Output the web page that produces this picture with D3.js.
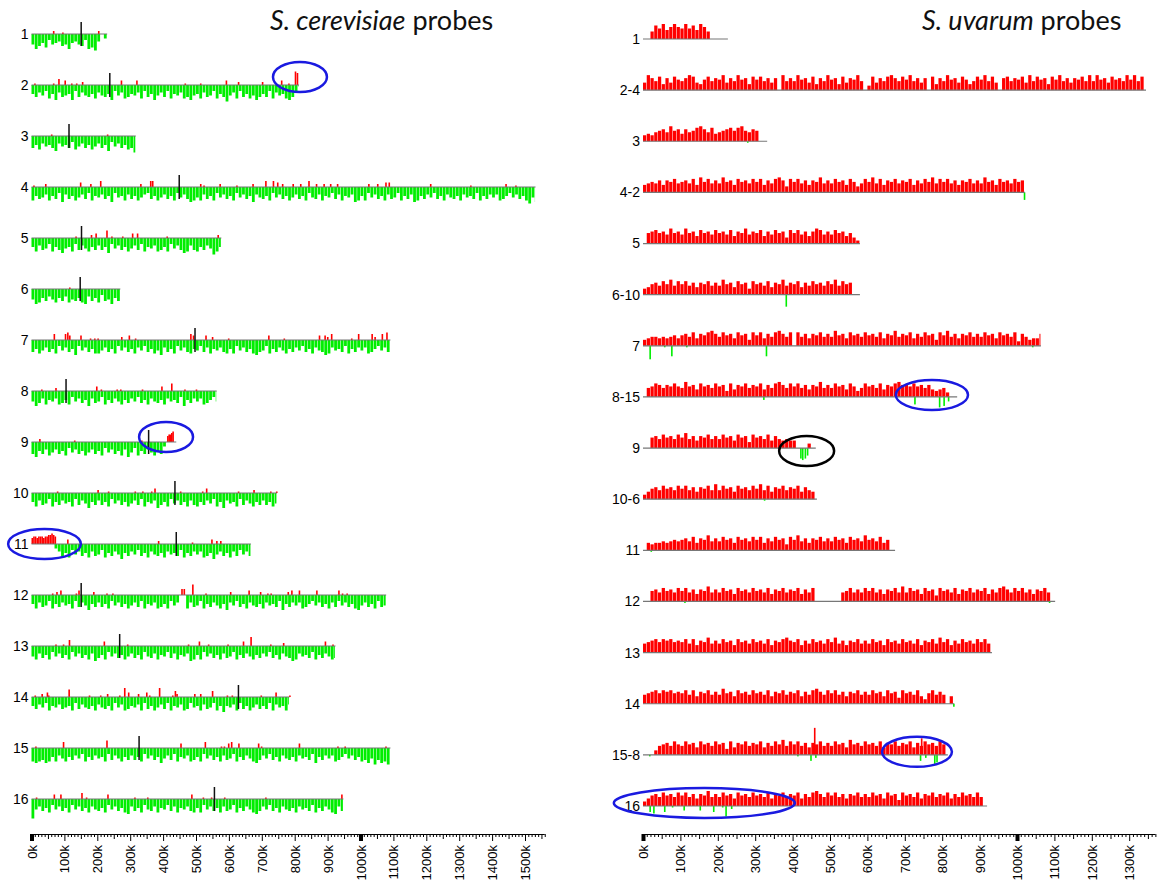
<!DOCTYPE html>
<html>
<head>
  <meta charset="utf-8">
  <script src="https://cdn.jsdelivr.net/npm/d3@7"></script>
  <style>
    body { margin: 0; background: #fff; }
    .row-label { font: 14px "Liberation Sans", Arial, sans-serif; fill: #000; }
    .title { font-family: Lato, "Open Sans", sans-serif; font-size: 27px; fill: #111; }
    .ruler text { font: 13px "Liberation Sans", Arial, sans-serif; fill: #000; }
  </style>
</head>
<body>
  <svg id="chart" width="1159" height="886"></svg>
  <script>
    // bar values are in 10 kb bins, one base-36 character per bin
    var BIN = 10;

    // S. cerevisiae probes (left): green = below, red = above
    var cerNames = ['1', '2', '3', '4', '5', '6', '7', '8', '9', '10', '11', '12', '13', '14', '15', '16'];
    var cerLengths = [230, 813, 317, 1532, 577, 270, 1091, 563, 440, 746, 667, 1078, 924, 784, 1091, 948];
    var cerCentromeres = [151, 238, 114, 449, 152, 148, 497, 105, 356, 436, 440, 151, 268, 629, 327, 556];
    var cerGreen = [
      '7a86947658' + '7a65784a9b' + '503',
      '6857496a58' + '76a4857869' + '5786a47598' + '6759486a75' + '84967598a7' + '695874968b' + '75948697a8' + '68495769a8' + '41',
      '8695768a57' + '6849758697' + '586a475869' + '8b',
      '968759684a' + '5869758496' + '7586a47695' + '8697548697' + '58694758a9' + '7958694758' + '6947586a57' + '8694758697' +
        '5869478596' + '74859675a9' + '6947586958' + '749685a968' + '5748695786' + '9576849685' + '7598647586' + '9b7a',
      '695874968a' + '7694857968' + '586a475869' + '7584967598' + '694758a958' + '96857b96',
      '7a96857968' + '597869a586' + '9487a68',
      '8697586947' + '586a475869' + '9758694758' + '695748697a' + '5869475896' + '7485967589' + '69475869a8' + '7496857968' +
        '574869578a' + '9576849685' + '7598647589',
      '7a85967598' + '6947586a58' + '7496857968' + '5748695786' + '957684a685' + '7598647',
      '8a68597586' + '9475869758' + '694758695a' + '7496857968' + '3000',
      '6958749685' + '7694857a68' + '5869475869' + '75849675a8' + '6947586958' + '96857496a5' + '7694857968' + '58697',
      '0000000358' + '6947586958' + '7496857a68' + '5748695786' + '9576849685' + '75986a7586' + '9584758',
      '6958749685' + '7694857a68' + '5869475869' + '7584967598' + '6947500958' + '749685796a' + '5748695786' + '957684a685' +
        '7598647586' + '958475869a' + '75869487',
      '7958694758' + '694758695a' + '8694758697' + '5869478596' + '74859675a9' + '6947586958' + '7496857968' + '574869578a' +
        '9576849685' + '798',
      '6857496758' + '7694857869' + '5786947598' + '6759486975' + '8496759847' + '69587496a6' + '7594869758' + '684957695',
      '9a98a96957' + '9685749685' + '7694857968' + '586947586a' + '7584967598' + '6947586958' + '74968579a8' + '5748695786' +
        '957684a685' + '7598647586' + '98a7b8a9bc',
      'd758694758' + '6947586957' + '869475869a' + '5869478596' + '7485967589' + '6947586958' + '74968579a8' + '5748695786' +
        '9576849685' + '79a58'
    ];
    var cerRed = [
      [[65, 2], [93, 1], [202, 2]],
      [[8, 1], [65, 1], [81, 4], [100, 3], [120, 1], [135, 1], [153, 2], [271, 3], [318, 3], [465, 1], [512, 1], [590, 3], [627, 2], [700, 2], [758, 3], [780, 1], [800, 9], [806, 8]],
      [[59, 1], [229, 1]],
      [[5, 1], [41, 2], [147, 3], [178, 2], [208, 4], [330, 2], [360, 4], [366, 4], [512, 2], [522, 1], [571, 2], [622, 1], [671, 2], [710, 4], [733, 4], [746, 3], [761, 2], [793, 2], [816, 2], [841, 4], [864, 2], [887, 2], [907, 2], [928, 2], [1023, 2], [1050, 2], [1075, 3], [1085, 3], [1211, 2], [1333, 1], [1440, 2], [1470, 1]],
      [[133, 1], [180, 2], [194, 3], [227, 5], [242, 1], [275, 1], [305, 3], [320, 3], [410, 1], [565, 2]],
      [[114, 1]],
      [[67, 4], [101, 4], [108, 5], [114, 3], [148, 3], [177, 1], [190, 1], [200, 1], [272, 2], [295, 3], [314, 1], [482, 4], [490, 3], [528, 3], [548, 2], [597, 1], [719, 3], [766, 1], [873, 3], [890, 3], [898, 2], [910, 4], [971, 1], [992, 4], [1033, 4], [1042, 2], [1064, 4], [1078, 5]],
      [[29, 1], [72, 2], [196, 3], [210, 1], [258, 1], [269, 1], [335, 1], [394, 3], [424, 5], [464, 1], [499, 1]],
      [[23, 2], [129, 1], [333, 1], [412, 4], [416, 5], [420, 5], [424, 6], [428, 7]],
      [[77, 1], [200, 2], [232, 1], [313, 1], [336, 1], [363, 1], [373, 3], [451, 1], [518, 1], [530, 3], [627, 1], [674, 2], [725, 1], [743, 1]],
      [[0, 4], [5, 5], [10, 5], [15, 4], [20, 5], [25, 5], [30, 5], [35, 4], [40, 5], [45, 5], [50, 6], [55, 6], [60, 7], [65, 6], [70, 5], [108, 3], [384, 2], [487, 1], [546, 3], [561, 2], [573, 2]],
      [[62, 1], [75, 2], [87, 3], [134, 1], [142, 3], [187, 2], [227, 1], [245, 1], [455, 4], [462, 4], [488, 7], [528, 1], [603, 2], [659, 3], [694, 2], [716, 1], [726, 1], [778, 2], [789, 3], [812, 3], [865, 3], [932, 3], [943, 1], [957, 1]],
      [[72, 1], [95, 1], [113, 4], [219, 3], [290, 1], [475, 1], [508, 3], [536, 1], [595, 1], [642, 3], [665, 6], [725, 1], [764, 2], [891, 3], [914, 1]],
      [[9, 1], [30, 2], [46, 3], [50, 1], [112, 5], [174, 1], [208, 1], [229, 2], [266, 1], [281, 6], [293, 3], [323, 2], [348, 3], [357, 1], [387, 6], [427, 1], [435, 4], [440, 2], [494, 2], [512, 2], [548, 4], [593, 1], [608, 1], [696, 1], [741, 3], [783, 1]],
      [[11, 1], [95, 4], [227, 5], [452, 3], [526, 4], [575, 1], [584, 1], [597, 3], [606, 4], [628, 3], [688, 3], [697, 1], [812, 3], [929, 1], [951, 1], [1075, 1]],
      [[13, 1], [67, 3], [87, 3], [151, 4], [165, 1], [230, 3], [312, 1], [351, 1], [485, 3], [520, 1], [545, 1], [585, 1], [710, 1], [941, 3]]
    ];

    // S. uvarum probes (right): red = above, green = below
    var uvaNames = ['1', '2-4', '3', '4-2', '5', '6-10', '7', '8-15', '9', '10-6', '11', '12', '13', '14', '15-8', '16'];
    var uvaLengths = [227, 1345, 332, 1021, 580, 580, 1064, 840, 462, 465, 674, 1102, 933, 832, 815, 920];
    var uvaRed = [
      '00597a68a8' + '7a796a8500' + '000',
      '5a86948597' + '68a9547968' + '7a586a7849' + '7968580a68' + '6a7859486a' + '7849587a60' + '395869a869' + '7a68580948' +
        '6a78597469' + '7a69508968' + '795a697849' + '7a6858796a' + '6a7859786a' + '7a690',
      '4546786a78' + '58679a8695' + '678979a768' + '7000',
      '5676858796' + '78695a7968' + '6a78597869' + '795869a849' + '7968587a68' + '6978597469' + '7a69587968' + '7958697a69' +
        '7968587968' + '6a78597869' + '785',
      '0789786a78' + '6a78597869' + '7869587a68' + '7958697849' + '796858a968' + '69785742',
      '4578697a69' + '7968587968' + '6a78597849' + '7869587a68' + '7958697869' + '7a697800',
      '4566565675' + '78695879a8' + '6978597849' + '795869a869' + '0968587968' + '6a78597869' + '7869587a68' + '7958697849' +
        '7a68587968' + '6978597869' + '3864558',
      '0679868797' + '6a78597869' + '7849587968' + '795869a869' + '7968587a68' + '6978597469' + '78695879a8' + '8797868545' + '6300',
      '0078697869' + '7a68587968' + '6978597849' + '7869586565' + '5000300',
      '3578697869' + '796858796a' + '6978597869' + '7a69587968' + '7958650',
      '0545565676' + '7869587a68' + '6978597869' + '7958697849' + '7a68587968' + '697859786a' + '78695700',
      '0078697869' + '7968587a68' + '6978597869' + '7869587968' + '7958690000' + '0006796869' + '796858796a' + '6978597849' +
        '7869587968' + '795869a869' + '7968587960' + '0',
      '6789798978' + '7969587a68' + '6978597869' + '78695879a8' + '7958697869' + '7a68587968' + '6978597869' + '786958796a' +
        '7958697869' + '7960',
      '6789798978' + '7969587968' + '6a78597869' + '7869587968' + '795869a869' + '7968587968' + '6978597849' + '7869537968' + '6050',
      '0003678697' + '6978597869' + '7849587968' + '7958697a69' + '7968587968' + '69785a7869' + '7869587968' + '7958697869' + '70',
      '3578697869' + '7968587a68' + '6978597869' + '7869587968' + '795869a869' + '7968587968' + '6978597849' + '7869587968' +
        '7958697869' + '60'
    ];
    var uvaGreen = [
      [],
      [],
      [[278, 1]],
      [[1018, 5]],
      [],
      [[381, 8]],
      [[17, 9], [56, 1], [75, 7], [115, 1], [328, 7], [1040, 1]],
      [[321, 2], [725, 5], [791, 7], [803, 6], [815, 3]],
      [[420, 7], [425, 8], [432, 7], [438, 5]],
      [[323, 1]],
      [[20, 1]],
      [[110, 1], [1085, 1]],
      [],
      [[829, 2]],
      [[16, 1], [412, 1], [447, 4], [460, 2], [740, 4], [754, 2], [778, 6], [784, 5]],
      [[17, 4], [27, 5], [56, 4], [77, 1], [108, 3], [151, 3], [187, 4], [211, 1], [220, 7], [235, 2]]
    ];
    var uvaRedSpikes = [[], [], [], [], [], [], [], [], [], [], [], [], [], [], [[457, 18], [743, 11]], []];

    // circled regions: panel, row, start kb, end kb
    var circles = [
      {panel: 'cer', row: '2', from: 734, to: 898, dy: -8, color: '#1a1ae0'},
      {panel: 'cer', row: '9', from: 327, to: 491, dy: -5, color: '#1a1ae0'},
      {panel: 'cer', row: '11', from: -71, to: 150, dy: 0, color: '#1a1ae0'},
      {panel: 'uva', row: '8-15', from: 676, to: 869, dy: -2, color: '#1a1ae0'},
      {panel: 'uva', row: '9', from: 364, to: 511, dy: 3, color: '#000'},
      {panel: 'uva', row: '15-8', from: 639, to: 826, dy: -3, color: '#1a1ae0'},
      {panel: 'uva', row: '16', from: -78, to: 406, dy: -3, color: '#1a1ae0'}
    ];

    var svg = d3.select('#chart');
    var h = d3.scaleLinear().domain([0, 10]).range([0, 15]);

    var xCer = d3.scaleLinear().domain([0, 1000]).range([31.5, 360.5]);
    var yCer = d3.scalePoint().domain(cerNames).range([34, 799]);
    var xUva = d3.scaleLinear().domain([0, 1000]).range([643, 1017]);
    var yUva = d3.scalePoint().domain(uvaNames).range([39, 806]);

    function decode(s) {
      return s.split('').map(function (c, j) { return {k: j * BIN, v: parseInt(c, 36)}; });
    }

    function drawPanel(x, y, names, lengths, mainStr, mainUp, mainColor, spikes, spikeColor, extra, cen) {
      var g = svg.append('g');
      var bw = x(BIN) - x(0);
      names.forEach(function (name, i) {
        var len = lengths[i];
        var row = g.append('g').attr('transform', 'translate(0,' + y(name) + ')');
        var bins = decode(mainStr[i]).filter(function (d) { return d.v > 0 && d.k < len; });

        row.selectAll('rect.main')
          .data(bins)
          .enter()
          .append('rect')
          .attr('x', function (d) { return x(d.k); })
          .attr('width', function (d) { return Math.min(bw, x(len) - x(d.k)) - 0.5; })
          .attr('y', function (d) { return mainUp ? -h(d.v) : 0; })
          .attr('height', function (d) { return h(d.v); })
          .attr('fill', mainColor);

        row.selectAll('rect.spike')
          .data(spikes[i])
          .enter()
          .append('rect')
          .attr('x', function (d) { return x(d[0]); })
          .attr('width', 1.6)
          .attr('y', function (d) { return mainUp ? 0 : -h(d[1]); })
          .attr('height', function (d) { return h(d[1]); })
          .attr('fill', spikeColor);

        if (extra) {
          row.selectAll('rect.extra')
            .data(extra[i])
            .enter()
            .append('rect')
            .attr('x', function (d) { return x(d[0]); })
            .attr('width', 1.6)
            .attr('y', function (d) { return -h(d[1]); })
            .attr('height', function (d) { return h(d[1]); })
            .attr('fill', mainColor);
        }

        row.append('line')
          .attr('x1', x(0)).attr('x2', x(len))
          .attr('stroke', '#777').attr('stroke-width', 1.2);

        if (cen) {
          row.append('line')
            .attr('x1', x(cen[i])).attr('x2', x(cen[i]))
            .attr('y1', -12).attr('y2', 12)
            .attr('stroke', '#111').attr('stroke-width', 1.5);
        }

        row.append('text')
          .attr('class', 'row-label')
          .attr('x', x(0) - 3)
          .attr('dy', '0.35em')
          .attr('text-anchor', 'end')
          .text(name);
      });
    }

    drawPanel(xCer, yCer, cerNames, cerLengths, cerGreen, false, '#00ee00', cerRed, '#ff0000', null, cerCentromeres);
    drawPanel(xUva, yUva, uvaNames, uvaLengths, uvaRed, true, '#ff0000', uvaGreen, '#00ee00', uvaRedSpikes, null);

    // ellipses around regions of interest
    circles.forEach(function (c) {
      var x = c.panel === 'cer' ? xCer : xUva;
      var y = c.panel === 'cer' ? yCer : yUva;
      svg.append('ellipse')
        .attr('cx', (x(c.from) + x(c.to)) / 2)
        .attr('cy', y(c.row) + c.dy)
        .attr('rx', (x(c.to) - x(c.from)) / 2)
        .attr('ry', 15)
        .attr('fill', 'none')
        .attr('stroke', c.color)
        .attr('stroke-width', 2.5);
    });

    // ruler style axes
    function drawRuler(x, maxK) {
      var axis = d3.axisBottom(x)
        .tickValues(d3.range(0, maxK + 1, 10))
        .tickSize(3)
        .tickFormat(function (d) { return d % 100 === 0 ? d + 'k' : ''; });
      var gA = svg.append('g')
        .attr('class', 'ruler')
        .attr('transform', 'translate(0,834)')
        .call(axis);
      gA.select('.domain').attr('d', 'M' + x(0) + ',0.5H' + x(maxK)).attr('stroke', '#000');
      gA.selectAll('.tick line')
        .attr('y2', function (d) { return d % 100 === 0 ? 7 : (d % 50 === 0 ? 5 : 3); })
        .attr('stroke-width', function (d) { return (d === 0 || d === 1000) ? 4 : 1; });
      gA.selectAll('.tick text')
        .attr('transform', 'rotate(-90)')
        .attr('text-anchor', 'end')
        .attr('x', -11)
        .attr('y', 0)
        .attr('dy', '0.35em');
    }
    drawRuler(xCer, 1560);
    drawRuler(xUva, 1370);

    // panel titles
    var t1 = svg.append('text').attr('class', 'title').attr('x', 270).attr('y', 30);
    t1.append('tspan').attr('font-style', 'italic').text('S. cerevisiae');
    t1.append('tspan').text(' probes');
    var t2 = svg.append('text').attr('class', 'title').attr('x', 922).attr('y', 30);
    t2.append('tspan').attr('font-style', 'italic').text('S. uvarum');
    t2.append('tspan').text(' probes');
  </script>
</body>
</html>
